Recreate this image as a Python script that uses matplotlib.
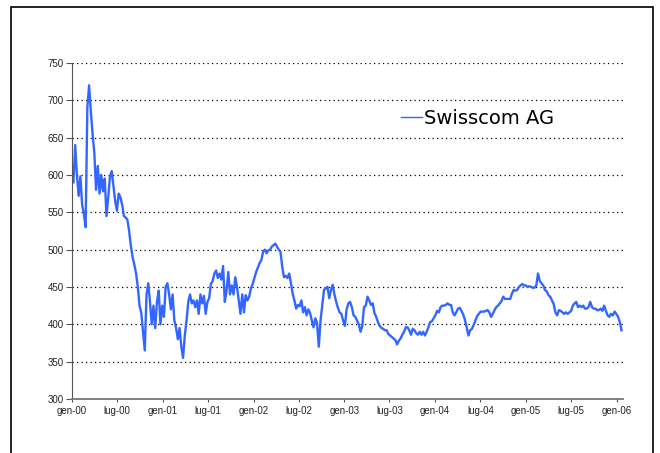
import matplotlib
matplotlib.use("Agg")
import matplotlib.pyplot as plt
from matplotlib.patches import Rectangle
import pandas as pd

# weekly closing prices (CHF), first week of Jan 2000 onwards
price = [
    590, 640, 600, 572, 598, 560, 548, 530, 690, 720,
    685, 655, 630, 580, 612, 575, 600, 578, 595, 545,
    570, 598, 605, 585, 565, 552, 575, 570, 560, 545,
    543, 540, 525, 505, 490, 480, 468, 450, 425, 415,
    390, 365, 440, 455, 430, 400, 425, 395, 430, 445,
    400, 425, 410, 450, 455, 440, 420, 440, 405, 395,
    380, 395, 370, 355, 385, 405, 430, 440,
    428, 432, 423, 432, 414, 440, 428, 438, 414, 430,
    435, 454, 458, 468, 472, 462, 468, 460, 478, 430,
    445, 470, 440, 452, 440, 463, 450, 432, 414, 440,
    416, 439, 432, 437, 448, 454, 462, 470, 476, 482,
    486, 497, 500, 495, 499, 500, 504, 506, 508, 504,
    500, 497, 477, 463, 465, 462, 468, 455, 441, 432,
    421, 426, 424, 432, 416, 423, 412, 420, 415, 405,
    396, 408, 402, 370,
    405, 425, 446, 448, 450, 435, 446, 453, 440, 430,
    422, 416, 414, 405, 398, 420, 428, 430, 423, 412,
    410, 405, 400, 390, 398, 423, 425, 437, 432, 426,
    428, 415, 410, 403, 398, 395, 394, 392, 392, 387,
    385, 383, 381, 379, 373, 378, 381, 386, 390, 396,
    396, 392, 386, 394, 392, 388, 386, 390, 386, 390,
    385, 390, 396, 403, 404, 408, 412, 418, 416, 423,
    425, 425, 426, 428, 426, 426,
    416, 412, 416, 421, 422, 418, 413, 406, 396, 385,
    392, 394, 399, 405, 411, 414, 417, 417, 417, 418,
    419, 416, 410, 414, 419, 423, 425, 428, 431, 437,
    434, 434, 434, 434, 441, 446, 445, 446, 450, 452,
    454, 452, 452, 450, 451, 450, 449, 449, 452, 468,
    458, 455, 452, 446, 444, 439, 437, 432, 427, 416,
    412, 419, 418, 416, 414, 416, 414, 416, 418, 425,
    428, 430, 423, 425, 423, 425, 421, 421, 423, 430,
    423, 421, 421, 419, 419, 421, 418, 425, 418, 412,
    410, 414, 412, 417, 414, 410, 403, 392,
]
dates = pd.date_range("2000-01-07", periods=len(price), freq="7D")

tick_dates = pd.to_datetime([
    "2000-01-01", "2000-07-01", "2001-01-01", "2001-07-01", "2002-01-01",
    "2002-07-01", "2003-01-01", "2003-07-01", "2004-01-01", "2004-07-01",
    "2005-01-01", "2005-07-01", "2006-01-01",
])
tick_labels = ["gen-00", "lug-00", "gen-01", "lug-01", "gen-02", "lug-02",
               "gen-03", "lug-03", "gen-04", "lug-04", "gen-05", "lug-05",
               "gen-06"]
y_ticks = [300, 350, 400, 450, 500, 550, 600, 650, 700, 750]

fig = plt.figure(figsize=(6.6, 4.53), dpi=100)
ax = fig.add_axes([0.109, 0.1192, 0.835, 0.742])

ax.plot(dates, price, color="#3366ff", lw=1.7, label="Swisscom AG")

ax.set_xlim(pd.Timestamp("2000-01-01"), pd.Timestamp("2006-01-26"))
ax.set_ylim(300, 750)
ax.set_yticks(y_ticks)
ax.set_xticks(tick_dates)
ax.set_xticklabels(tick_labels)

for v in y_ticks[1:]:
    ax.axhline(v, color="black", lw=0.9, ls=(0, (1, 2.6)), zorder=0)

for s in ["top", "right"]:
    ax.spines[s].set_visible(False)
ax.spines["left"].set_color("#555555")
ax.spines["bottom"].set_color("#777777")
ax.spines["bottom"].set_linewidth(1.3)
ax.tick_params(axis="y", direction="out", length=4, pad=2, colors="#555555",
               labelcolor="#222222", labelsize=7)
ax.tick_params(axis="x", direction="out", length=2, pad=3, colors="#555555",
               labelcolor="#222222", labelsize=7)
for lab in ax.get_xticklabels() + ax.get_yticklabels():
    lab.set_family("Liberation Sans")

leg = ax.legend(loc="center left", bbox_to_anchor=(0.607, 0.7395),
                bbox_transform=fig.transFigure, frameon=False, borderpad=0,
                borderaxespad=0, handlelength=1.1, handletextpad=0.08,
                prop={"family": "DejaVu Sans", "size": 14})
leg.get_lines()[0].set_linewidth(1.0)

# outer chart frame (open at the bottom, as in the original clip)
fig.patches.append(Rectangle((0.0174, -0.05), 0.9716, 1.0345, fill=False,
                             edgecolor="black", lw=1.2,
                             transform=fig.transFigure, clip_on=False))

fig.savefig("out.png", dpi=100)
